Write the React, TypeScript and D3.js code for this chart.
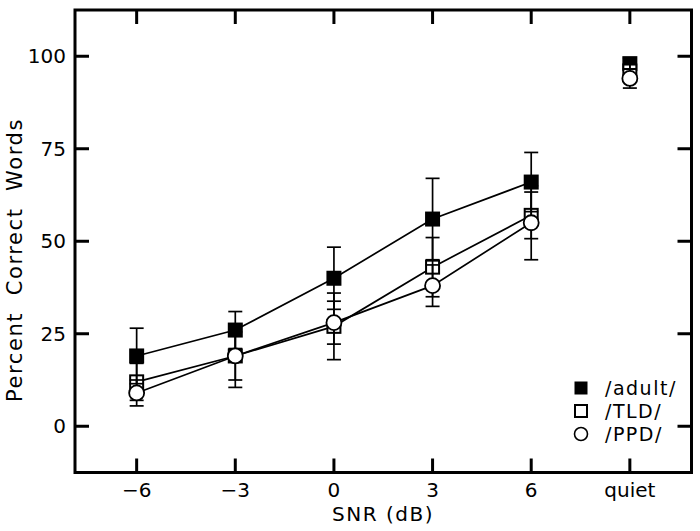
import React from "react";
import * as d3 from "d3";

const categories = ["\u22126", "\u22123", "0", "3", "6", "quiet"];
const adult = [19, 26, 40, 56, 66, 98];
const adultErr = [7.5, 5, 8.4, 11, 8, 1.5];
const tld = [12, 19, 27, 43, 57, 96];
const tldErr = [5, 6.5, 9, 8, 6.3, 2];
const ppd = [9, 19, 28, 38, 55, 94];
const ppdErr = [3.5, 8.5, 5.8, 5.6, 10, 2.6];
const yTicks = [0, 25, 50, 75, 100];
const legendLabels = ["/adult/", "/TLD/", "/PPD/"];

const W = 700;
const H = 531;
const L = 75, R = 691.5, T = 10, B = 472.5;
const FONT = "DejaVu Sans";

export default function App() {
  const x = d3.scaleLinear().domain([-0.625, 5.625]).range([L, R]);
  const y = d3.scaleLinear().domain([-12.5, 112.5]).range([B, T]);
  const idx = categories.map((_, i) => i);
  const line = d3
    .line<number>()
    .x((_, i) => x(i))
    .y((d) => y(d));
  const conn = (arr: number[]) => line(arr.slice(0, 5)) || "";
  const TL = 14;
  const cap = 7;
  const sq = 15;

  const errBars = (vals: number[], errs: number[], key: string) =>
    vals.map((v, i) => (
      <g key={key + i} stroke="#000" strokeWidth={1.7}>
        <line x1={x(i)} x2={x(i)} y1={y(v - errs[i])} y2={y(v + errs[i])} />
        <line x1={x(i) - cap} x2={x(i) + cap} y1={y(v + errs[i])} y2={y(v + errs[i])} />
        <line x1={x(i) - cap} x2={x(i) + cap} y1={y(v - errs[i])} y2={y(v - errs[i])} />
      </g>
    ));

  const legY = [388, 411, 434];
  const legX = 581;

  return (
    <svg width={W} height={H} style={{ position: "absolute", left: 0, top: 0, background: "#fff" }}>
      <rect x={0} y={0} width={W} height={H} fill="#fff" />
      <g fill="none" stroke="#000" strokeWidth={1.7}>
        <path d={conn(adult)} />
        <path d={conn(tld)} />
        <path d={conn(ppd)} />
      </g>
      {adult.map((v, i) => (
        <rect key={"a" + i} x={x(i) - sq / 2} y={y(v) - sq / 2} width={sq} height={sq} fill="#000" />
      ))}
      {tld.map((v, i) => (
        <rect key={"t" + i} x={x(i) - sq / 2 + 1} y={y(v) - sq / 2 + 1} width={sq - 2} height={sq - 2} fill="#fff" stroke="#000" strokeWidth={2} />
      ))}
      {errBars(adult, adultErr, "ea")}
      {errBars(tld, tldErr, "et")}
      {errBars(ppd, ppdErr, "ep")}
      {ppd.map((v, i) => (
        <circle key={"p" + i} cx={x(i)} cy={y(v)} r={7.5} fill="#fff" stroke="#000" strokeWidth={1.8} />
      ))}
      <rect x={L} y={T} width={R - L} height={B - T} fill="none" stroke="#000" strokeWidth={3} />
      <g stroke="#000" strokeWidth={3}>
        {idx.map((i) => (
          <g key={"xt" + i}>
            <line x1={x(i)} x2={x(i)} y1={B} y2={B - TL} />
            <line x1={x(i)} x2={x(i)} y1={T} y2={T + TL} />
          </g>
        ))}
        {yTicks.map((t) => (
          <g key={"yt" + t}>
            <line x1={L} x2={L + TL} y1={y(t)} y2={y(t)} />
            <line x1={R} x2={R - TL} y1={y(t)} y2={y(t)} />
          </g>
        ))}
      </g>
      <g fontFamily={FONT} fontSize={20} fill="#000">
        {categories.map((c, i) => (
          <text key={"xl" + i} x={x(i)} y={497} textAnchor="middle">
            {c}
          </text>
        ))}
        {yTicks.map((t) => (
          <text key={"yl" + t} x={66} y={y(t) + 7} textAnchor="end">
            {t}
          </text>
        ))}
      </g>
      <text x={383} y={521} textAnchor="middle" fontFamily={FONT} fontSize={20} letterSpacing={1.5}>
        SNR (dB)
      </text>
      <text
        transform={`translate(22,${260}) rotate(-90)`}
        textAnchor="middle"
        fontFamily={FONT}
        fontSize={21}
        letterSpacing={1.6}
        style={{ whiteSpace: "pre" }}
      >
        {"Percent  Correct  Words"}
      </text>
      <rect x={legX - 6.5} y={legY[0] - 6.5} width={13} height={13} fill="#000" />
      <rect x={legX - 6} y={legY[1] - 6} width={12} height={12} fill="#fff" stroke="#000" strokeWidth={2} />
      <circle cx={legX} cy={legY[2]} r={6.5} fill="#fff" stroke="#000" strokeWidth={1.6} />
      <g fontFamily={FONT} fontSize={19} letterSpacing={1.5}>
        {legendLabels.map((l, i) => (
          <text key={l} x={605} y={legY[i] + 7}>
            {l}
          </text>
        ))}
      </g>
    </svg>
  );
}
